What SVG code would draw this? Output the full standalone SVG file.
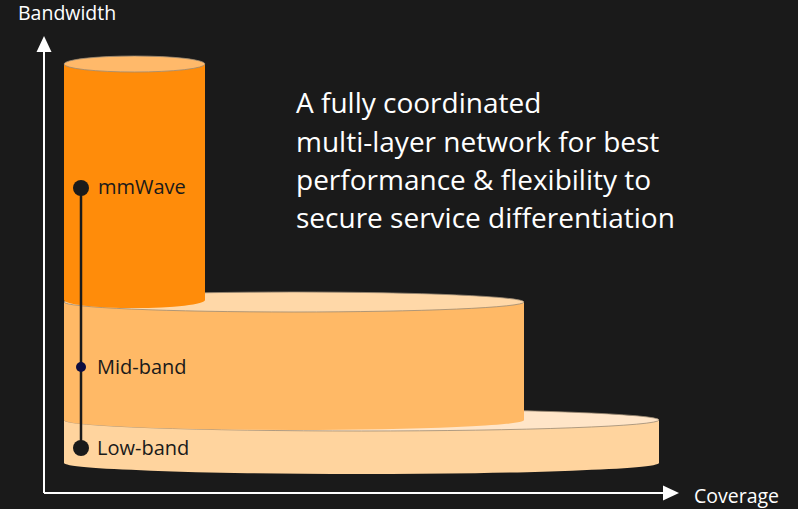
<svg xmlns="http://www.w3.org/2000/svg" width="798" height="509" viewBox="0 0 798 509">
<defs>
<style>
.axis{stroke:#ffffff;stroke-width:2;fill:none}
.ax-label{font-family:"Open Sans","Noto Sans",sans-serif;font-size:19.5px;fill:#ffffff}
.lbl{font-family:"Open Sans","Noto Sans",sans-serif;font-size:20px;fill:#1a1a1a}
.big{font-family:"Open Sans","Noto Sans",sans-serif;font-size:28px;fill:#ffffff}
.edge{stroke:#9c8a74;stroke-width:0.8}
</style>
</defs>
<rect width="798" height="509" fill="#1a1a1a"/>
<g id="low-band">
<path d="M64,420 L64,463 A297.5,11 0 0 0 659,463 L659,420 Z" fill="#ffd49e"/>
<ellipse cx="361.5" cy="420" rx="297.5" ry="11" fill="#ffe5c8" class="edge"/>
</g>
<g id="mid-band">
<path d="M64,302 L64,420 A230,10 0 0 0 524,420 L524,302 Z" fill="#ffb966"/>
<ellipse cx="294" cy="302" rx="230" ry="10" fill="#ffd8a8" class="edge"/>
</g>
<g id="mmwave">
<path d="M64,64 L64,300 A70.5,8 0 0 0 205,300 L205,64 Z" fill="#ff8c0a"/>
<ellipse cx="134.5" cy="64" rx="70.5" ry="8" fill="#ffb96a" class="edge"/>
</g>
<g id="connectors">
<line x1="44" y1="493" x2="44" y2="50" class="axis"/>
<polygon points="44,36 36.5,52 51.5,52" fill="#ffffff"/>
<line x1="44" y1="493" x2="665" y2="493" class="axis"/>
<polygon points="679,493 663,485.5 663,500.5" fill="#ffffff"/>
<line x1="81" y1="188" x2="81" y2="448" stroke="#1a1a1a" stroke-width="2.5"/>
</g>
<g id="dots">
<circle cx="81" cy="188" r="8" fill="#1a1a1a"/>
<circle cx="81" cy="367" r="5" fill="#0d0d40"/>
<circle cx="81" cy="448" r="8" fill="#1a1a1a"/>
</g>
<g id="labels">
<text x="18" y="20" class="ax-label">Bandwidth</text>
<text x="694" y="503" class="ax-label">Coverage</text>
<text x="98" y="194" class="lbl">mmWave</text>
<text x="97" y="374" class="lbl">Mid-band</text>
<text x="97" y="455" class="lbl">Low-band</text>
</g>
<g id="caption">
<text x="296" y="113" class="big">A fully coordinated</text>
<text x="296" y="152" class="big">multi-layer network for best</text>
<text x="296" y="190" class="big">performance &amp; flexibility to</text>
<text x="296" y="228" class="big">secure service differentiation</text>
</g>
</svg>
